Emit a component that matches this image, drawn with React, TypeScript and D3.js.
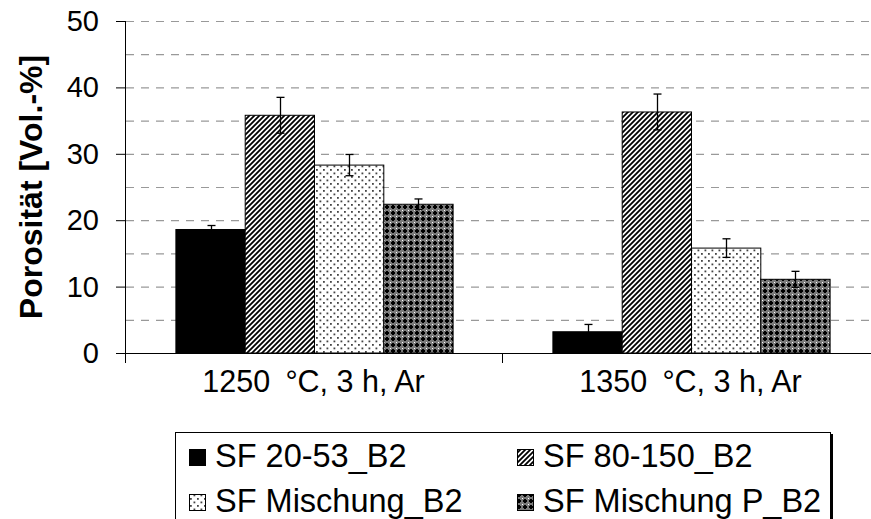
import React, { useEffect, useRef } from 'react';
import * as d3 from 'd3';

const categories = ['1250\u2002°C, 3 h, Ar', '1350\u2002°C, 3 h, Ar'];
const seriesNames = ['SF 20-53_B2', 'SF 80-150_B2', 'SF Mischung_B2', 'SF Mischung P_B2'];
// values per series, one entry per category
const values = [
  [18.6, 3.2],
  [35.8, 36.3],
  [28.3, 15.8],
  [22.4, 11.1],
];
const errors = [
  [0.6, 1.1],
  [2.7, 2.7],
  [1.6, 1.4],
  [0.8, 1.2],
];
const yTicks = [0, 10, 20, 30, 40, 50];
const gridTicks = [5, 10, 15, 20, 25, 30, 35, 40, 45, 50];

const fills = ['#000', 'url(#hatch)', 'url(#dots)', 'url(#checks)'];

export default function App() {
  const ref = useRef<SVGSVGElement>(null);

  useEffect(() => {
    const svg = d3.select(ref.current);
    svg.selectAll('*').remove();

    const width = 871;
    const left = 126;
    const groupW = 377;
    const font = 'Liberation Sans, Arial, sans-serif';

    const y = d3.scaleLinear().domain([0, 50]).range([353, 21]);
    const x0 = d3.scaleBand<string>().domain(categories).range([left, left + groupW * categories.length]);
    const x1 = d3.scaleBand<string>().domain(seriesNames).range([0, x0.bandwidth()]).paddingInner(0).paddingOuter(0.72);

    // patterns
    const defs = svg.append('defs');
    const hatch = defs.append('pattern').attr('id', 'hatch').attr('patternUnits', 'userSpaceOnUse')
      .attr('width', 5).attr('height', 5);
    hatch.append('rect').attr('width', 5).attr('height', 5).attr('fill', '#fff');
    hatch.append('path').attr('d', 'M0,5L5,0M-1,1L1,-1M4,6L6,4')
      .attr('stroke', '#000').attr('stroke-width', 1.8);

    const dots = defs.append('pattern').attr('id', 'dots').attr('patternUnits', 'userSpaceOnUse')
      .attr('width', 7).attr('height', 7);
    dots.append('rect').attr('width', 7).attr('height', 7).attr('fill', '#fff');
    dots.append('rect').attr('x', 1).attr('y', 1).attr('width', 1.8).attr('height', 1.8).attr('fill', '#444');
    dots.append('rect').attr('x', 4.5).attr('y', 4.5).attr('width', 1.8).attr('height', 1.8).attr('fill', '#444');

    const checks = defs.append('pattern').attr('id', 'checks').attr('patternUnits', 'userSpaceOnUse')
      .attr('width', 6).attr('height', 6);
    checks.append('rect').attr('width', 6).attr('height', 6).attr('fill', '#7a7a7a');
    checks.append('rect').attr('x', 2).attr('y', 1).attr('width', 2).attr('height', 4).attr('fill', '#000');
    checks.append('rect').attr('x', 1).attr('y', 2).attr('width', 4).attr('height', 2).attr('fill', '#000');
    checks.append('rect').attr('x', 0).attr('y', 0).attr('width', 1).attr('height', 1).attr('fill', '#fff');

    // gridlines
    svg.append('g').selectAll('line').data(gridTicks).enter().append('line')
      .attr('x1', left).attr('x2', width)
      .attr('y1', (d) => y(d) + 0.5).attr('y2', (d) => y(d) + 0.5)
      .attr('stroke', '#999').attr('stroke-width', 1.2)
      .attr('stroke-dasharray', '8,7');

    // bars
    const bars = svg.append('g');
    seriesNames.forEach((s, si) => {
      categories.forEach((c, ci) => {
        const bx = x0(c)! + x1(s)!;
        const v = values[si][ci];
        bars.append('rect')
          .attr('x', bx).attr('y', y(v))
          .attr('width', x1.bandwidth()).attr('height', y(0) - y(v))
          .attr('fill', fills[si]).attr('stroke', '#000').attr('stroke-width', 1);
      });
    });

    // error bars
    const err = svg.append('g').attr('stroke', '#000').attr('stroke-width', 1.3);
    seriesNames.forEach((s, si) => {
      categories.forEach((c, ci) => {
        const cx = Math.round(x0(c)! + x1(s)! + x1.bandwidth() / 2) + 0.5;
        const v = values[si][ci];
        const e = errors[si][ci];
        err.append('line').attr('x1', cx).attr('x2', cx).attr('y1', y(v + e)).attr('y2', y(v - e));
        err.append('line').attr('x1', cx - 4).attr('x2', cx + 4).attr('y1', y(v + e)).attr('y2', y(v + e));
        err.append('line').attr('x1', cx - 4).attr('x2', cx + 4).attr('y1', y(v - e)).attr('y2', y(v - e));
      });
    });

    // axes
    const axis = svg.append('g').attr('stroke', '#000').attr('stroke-width', 1);
    axis.append('line').attr('x1', left - 0.5).attr('x2', left - 0.5).attr('y1', y(50)).attr('y2', y(0) + 10);
    axis.append('line').attr('x1', left - 10).attr('x2', width).attr('y1', y(0) + 0.5).attr('y2', y(0) + 0.5);
    axis.selectAll('.yt').data(yTicks).enter().append('line')
      .attr('x1', left - 10).attr('x2', left)
      .attr('y1', (d) => y(d) + 0.5).attr('y2', (d) => y(d) + 0.5);
    axis.selectAll('.xt').data(categories).enter().append('line')
      .attr('x1', (d) => x0(d)! + x0.bandwidth() - 0.5).attr('x2', (d) => x0(d)! + x0.bandwidth() - 0.5)
      .attr('y1', y(0)).attr('y2', y(0) + 10);

    svg.append('g').selectAll('text').data(yTicks).enter().append('text')
      .attr('x', 99).attr('y', (d) => y(d) + 10)
      .attr('text-anchor', 'end').attr('font-family', font).attr('font-size', 29)
      .text((d) => d);

    svg.append('g').selectAll('text').data(categories).enter().append('text')
      .attr('x', (d) => x0(d)! + x0.bandwidth() / 2 - 1).attr('y', 392)
      .attr('text-anchor', 'middle').attr('font-family', font).attr('font-size', 30.5)
      .text((d) => d);

    svg.append('text')
      .attr('transform', 'translate(42,' + (y(25) + 0) + ') rotate(-90)')
      .attr('text-anchor', 'middle').attr('font-family', font).attr('font-size', 32)
      .attr('font-weight', 'bold')
      .text('Porosität [Vol.-%]');

    // legend
    const lg = svg.append('g');
    lg.append('rect').attr('x', 175.5).attr('y', 432.5).attr('width', 655).attr('height', 120)
      .attr('fill', '#fff').attr('stroke', '#000').attr('stroke-width', 1);
    lg.append('line').attr('x1', 832).attr('x2', 832).attr('y1', 434).attr('y2', 519)
      .attr('stroke', '#000').attr('stroke-width', 2);
    const lx = [189, 517];
    const ly = [449, 494];
    seriesNames.forEach((s, i) => {
      const gx = lx[i % 2];
      const gy = ly[Math.floor(i / 2)];
      lg.append('rect').attr('x', gx + 0.5).attr('y', gy + 0.5).attr('width', 16).attr('height', 16)
        .attr('fill', fills[i]).attr('stroke', '#000').attr('stroke-width', 1);
      lg.append('text').attr('x', gx + 26).attr('y', gy + 18)
        .attr('font-family', font).attr('font-size', 32.5)
        .text(s);
    });
  }, []);

  return (
    <svg ref={ref} width={871} height={519} style={{ position: 'absolute', left: 0, top: 0, background: '#fff' }} />
  );
}
